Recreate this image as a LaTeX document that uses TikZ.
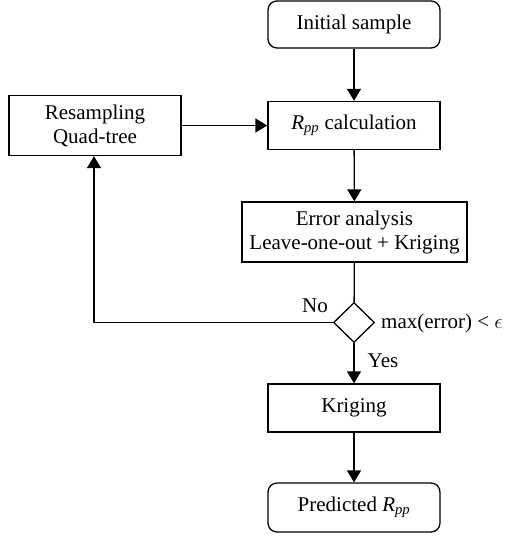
\documentclass[tikz,border=0pt]{standalone}
\usepackage{fontspec}
\setmainfont{Liberation Serif}
\usetikzlibrary{arrows.meta,shapes.geometric}
\begin{document}
\begin{tikzpicture}[x=1bp,y=-1bp,
  every node/.style={font=\fontsize{21bp}{24bp}\selectfont},
  box/.style={draw,line width=1.3bp,align=center,inner sep=0pt},
  rbox/.style={box,rounded corners=9bp},
  dec/.style={draw,line width=1.3bp,diamond,minimum width=41bp,minimum height=40bp,inner sep=0pt},
  arr/.style={line width=1.3bp,-{Triangle[length=12bp,width=14bp]}},
  ln/.style={line width=1.3bp}]
\useasboundingbox (0,0) rectangle (510,536);
\node[rbox,minimum width=172bp,minimum height=47bp] (init) at (354,24.5) {Initial sample};
\node[box,minimum width=172bp,minimum height=48bp] (rpp) at (354,125.5) {\textit{R}\textsubscript{\textit{pp}} calculation};
\node[box,minimum width=225bp,minimum height=60bp] (err) at (354.5,232) {Error analysis\\Leave-one-out + Kriging};
\node[box,minimum width=172bp,minimum height=60bp] (res) at (95,125.5) {Resampling\\Quad-tree};
\node[dec] (dia) at (354,322.5) {};
\node[box,minimum width=172bp,minimum height=48bp] (kri) at (354,408) {Kriging};
\node[rbox,minimum width=172bp,minimum height=49bp] (pred) at (354,507.5) {Predicted \textit{R}\textsubscript{\textit{pp}}};
\coordinate (corner) at (94,322.5);
\node[anchor=west,inner sep=0pt] (cond) at (381,323) {max(error) < $\epsilon$};
\node[inner sep=0pt] (no) at (315,306) {No};
\node[inner sep=0pt] (yes) at (383,361) {Yes};
\draw[arr] (init) -- (rpp);
\draw[arr] (rpp) -- (err);
\draw[ln] (err) -- (dia);
\draw[arr] (dia) -- (kri);
\draw[arr] (kri) -- (pred);
\draw[arr] (res.east) -- (rpp.west);
\draw[arr] (dia.west) -- (corner) -- (res.south -| corner);
\end{tikzpicture}
\end{document}
